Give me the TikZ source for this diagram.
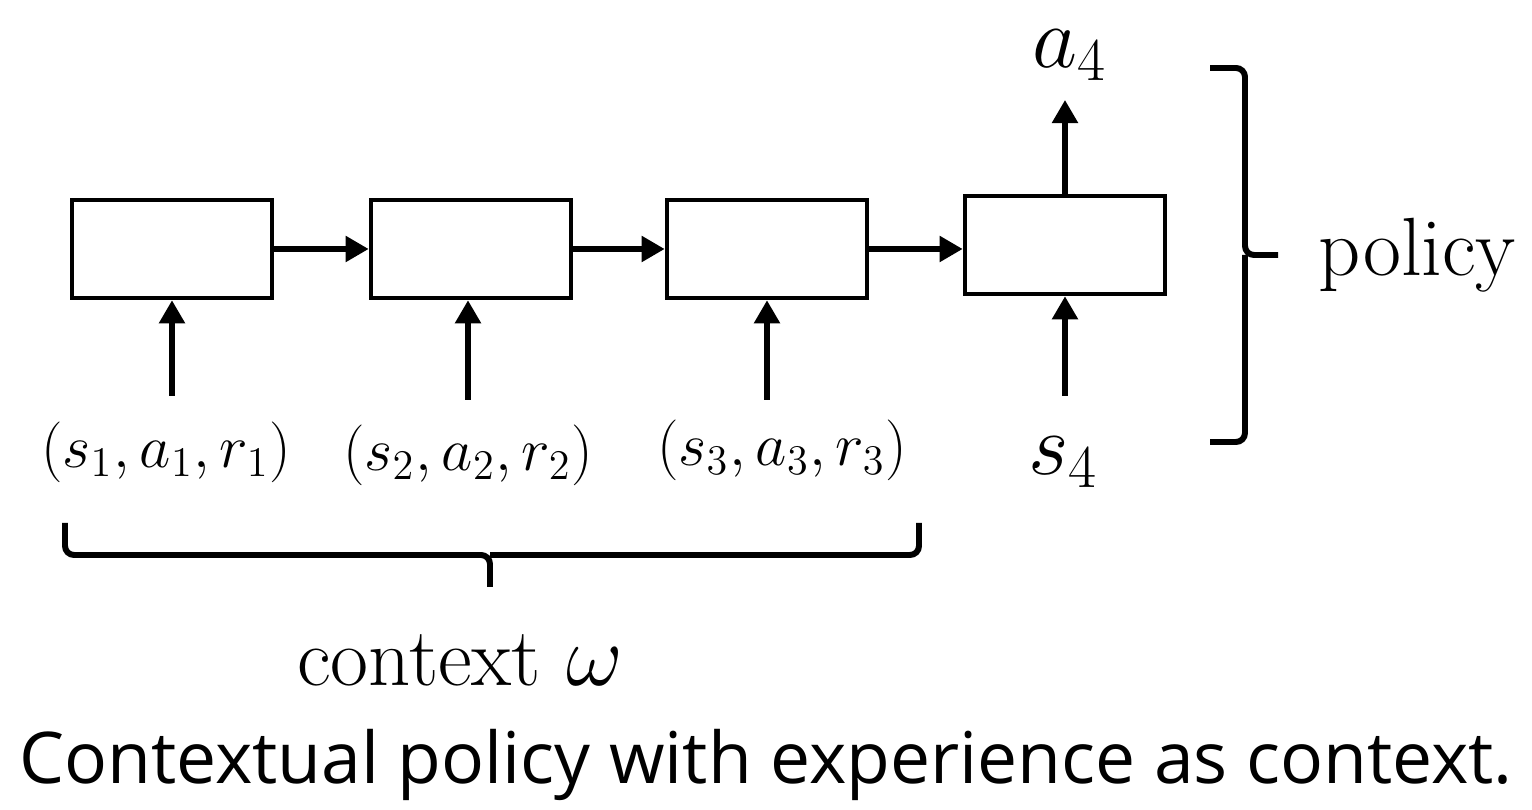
\documentclass[tikz,border=0pt]{standalone}
\usepackage{fontspec}
\usetikzlibrary{arrows.meta}
\newfontfamily\capfont{Open Sans}

\begin{document}
\begin{tikzpicture}[x=0.01cm, y=-0.01cm,
    cell/.style={draw, line width=1.3pt, minimum width=2cm, minimum height=0.98cm, inner sep=0pt},
    flow/.style={line width=1.5pt, -{Triangle[length=0.23cm, width=0.25cm]}},
    curly/.style={line width=1.7pt, rounded corners=0.09cm},
    tuple/.style={font=\fontsize{18.3}{22}\selectfont},
    big/.style={font=\fontsize{23}{27}\selectfont},
    word/.style={font=\fontsize{23.5}{28}\selectfont}]
   \useasboundingbox (0,0) rectangle (1532,810);

% the recurrent cells
   \node[cell] (b1) at (172,249) {};
   \node[cell] (b2) at (471,249) {};
   \node[cell] (b3) at (767,249) {};
   \node[cell] (b4) at (1065,245) {};
   \draw[flow] (b1.east) -- (b2.west);
   \draw[flow] (b2.east) -- (b3.west);
   \draw[flow] (b3.east) -- (b3.east -| b4.west);

% experience tuples
   \node[tuple] (t1) at (166,452) {$(s_1,a_1,r_1)$};
   \node[tuple] (t2) at (468,455) {$(s_2,a_2,r_2)$};
   \node[tuple] (t3) at (782,450) {$(s_3,a_3,r_3)$};
   \draw[flow] (b1.south |- 0,396) -- (b1.south);
   \draw[flow] (t2.north |- 0,400) -- (t2.north |- b2.south);
   \draw[flow] (b3.south |- 0,400) -- (b3.south);

% current state and action
   \node[big] (s4) at (1063,462) {$s_4$};
   \node[big] (a4) at (1070,55) {$a_4$};
   \draw[flow] (b4.south |- 0,396) -- (b4.south);
   \draw[flow] (b4.north) -- (b4.north |- 0,100);

% braces
   \draw[curly] (1210,68) -| (1245,255) -- (1278,255);
   \draw[curly] (1210,442) -| (1245,255);
   \node[word, anchor=west, inner sep=0pt] (pol) at (1318,255) {policy};
   \draw[curly] (65,523) |- (490,555) -- (490,587);
   \draw[curly] (919,523) |- (490,555);
   \node[word] (ctx) at (460,660) {context $\omega$};

% caption
   \node[font=\capfont\fontsize{20.3}{24}\selectfont] (cap) at (766,765) {Contextual policy with experience as context.};
\end{tikzpicture}
\end{document}
